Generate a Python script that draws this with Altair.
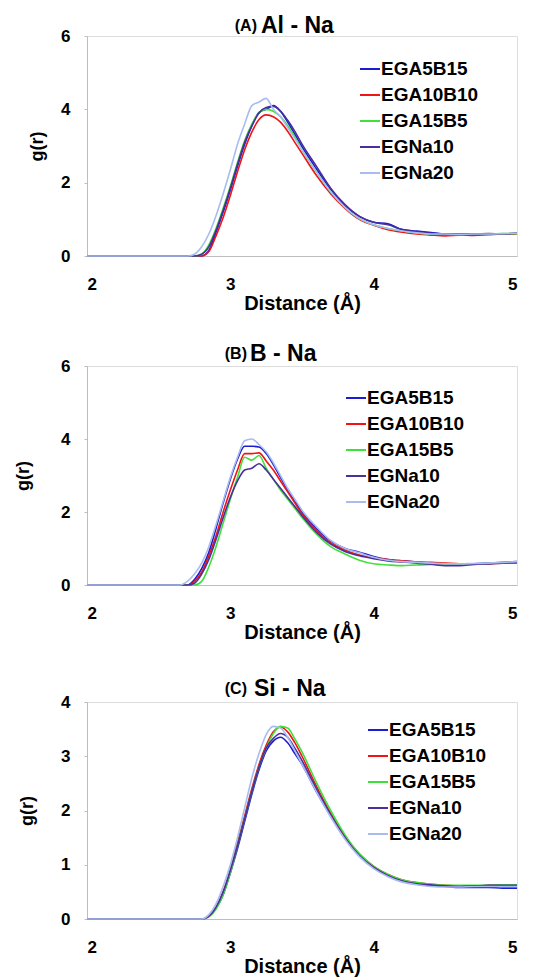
import altair as alt
import pandas as pd

series = ["EGA5B15", "EGA10B10", "EGA15B5", "EGNa10", "EGNa20"]
colors = ["#1c1cd0", "#f01414", "#3fe03a", "#4b2f9c", "#a8bcf0"]

r = [2.0, 2.65, 2.7, 2.75, 2.8, 2.85, 2.9, 2.95, 3.0, 3.05, 3.1, 3.15, 3.2, 3.25,
     3.3, 3.35, 3.4, 3.45, 3.5, 3.6, 3.7, 3.8, 3.9, 4.0, 4.1, 4.2, 4.3, 4.4, 4.5,
     4.6, 4.7, 4.8, 4.9, 5.0]

# (A) Al - Na
a_EGA5B15 = [0, 0, 0, 0, 0, 0.15, 0.65, 1.2, 1.8, 2.45, 3.05, 3.55, 3.92, 4.0, 4.1, 3.95, 3.65, 3.32, 2.98, 2.38, 1.82, 1.38, 1.08, 0.92, 0.88, 0.72, 0.68, 0.64, 0.6, 0.6, 0.58, 0.6, 0.6, 0.62]
a_EGA10B10 = [0, 0, 0, 0, 0, 0.12, 0.55, 1.05, 1.65, 2.3, 2.9, 3.38, 3.72, 3.85, 3.8, 3.65, 3.4, 3.1, 2.8, 2.2, 1.7, 1.3, 1.0, 0.84, 0.72, 0.65, 0.6, 0.57, 0.55, 0.57, 0.56, 0.58, 0.6, 0.6]
a_EGA15B5 = [0, 0, 0, 0, 0.05, 0.3, 0.75, 1.3, 1.9, 2.55, 3.15, 3.6, 3.9, 4.0, 3.95, 3.8, 3.55, 3.25, 2.9, 2.3, 1.75, 1.33, 1.02, 0.85, 0.75, 0.68, 0.63, 0.6, 0.59, 0.59, 0.6, 0.6, 0.61, 0.61]
a_EGNa10 = [0, 0, 0, 0, 0.05, 0.25, 0.7, 1.25, 1.85, 2.5, 3.1, 3.55, 3.9, 4.05, 4.08, 3.95, 3.7, 3.4, 3.05, 2.45, 1.85, 1.4, 1.08, 0.92, 0.85, 0.72, 0.66, 0.62, 0.6, 0.6, 0.6, 0.61, 0.6, 0.62]
a_EGNa20 = [0, 0, 0, 0.05, 0.25, 0.6, 1.1, 1.7, 2.35, 3.05, 3.6, 4.1, 4.2, 4.3, 4.0, 3.8, 3.5, 3.2, 2.9, 2.3, 1.75, 1.32, 1.02, 0.85, 0.75, 0.68, 0.63, 0.6, 0.6, 0.59, 0.6, 0.6, 0.61, 0.62]

# (B) B - Na
b_EGA5B15 = [0, 0, 0, 0.15, 0.45, 0.9, 1.55, 2.25, 2.9, 3.45, 3.8, 3.8, 3.78, 3.6, 3.3, 2.95, 2.6, 2.3, 2.0, 1.55, 1.2, 1.0, 0.9, 0.78, 0.7, 0.66, 0.63, 0.6, 0.58, 0.57, 0.58, 0.6, 0.62, 0.64]
b_EGA10B10 = [0, 0, 0, 0.1, 0.35, 0.8, 1.35, 2.0, 2.6, 3.15, 3.6, 3.6, 3.62, 3.4, 3.15, 2.85, 2.55, 2.25, 1.95, 1.5, 1.15, 0.95, 0.82, 0.74, 0.7, 0.66, 0.63, 0.62, 0.6, 0.58, 0.58, 0.58, 0.6, 0.6]
b_EGA15B5 = [0, 0, 0, 0, 0.1, 0.5, 1.05, 1.7, 2.35, 2.95, 3.5, 3.42, 3.55, 3.2, 2.9, 2.6, 2.35, 2.1, 1.85, 1.4, 1.05, 0.85, 0.68, 0.58, 0.55, 0.53, 0.55, 0.56, 0.57, 0.58, 0.58, 0.59, 0.6, 0.61]
b_EGNa10 = [0, 0, 0, 0.05, 0.3, 0.7, 1.25, 1.85, 2.4, 2.85, 3.15, 3.2, 3.32, 3.15, 2.9, 2.65, 2.4, 2.15, 1.9, 1.45, 1.12, 0.92, 0.8, 0.72, 0.66, 0.63, 0.6, 0.57, 0.53, 0.53, 0.56, 0.58, 0.6, 0.62]
b_EGNa20 = [0, 0, 0.1, 0.3, 0.6, 1.05, 1.65, 2.3, 2.95, 3.5, 3.95, 4.0, 3.85, 3.65, 3.35, 3.0, 2.65, 2.35, 2.05, 1.6, 1.22, 1.0, 0.88, 0.76, 0.68, 0.64, 0.62, 0.6, 0.58, 0.58, 0.59, 0.6, 0.62, 0.64]

# (C) Si - Na
c_EGA5B15 = [0, 0, 0, 0, 0, 0.05, 0.2, 0.45, 0.85, 1.3, 1.8, 2.3, 2.75, 3.1, 3.28, 3.35, 3.25, 3.05, 2.85, 2.35, 1.9, 1.5, 1.18, 0.95, 0.8, 0.7, 0.64, 0.62, 0.6, 0.58, 0.58, 0.58, 0.57, 0.57]
c_EGA10B10 = [0, 0, 0, 0, 0, 0.05, 0.2, 0.5, 0.9, 1.4, 1.9, 2.4, 2.85, 3.2, 3.45, 3.54, 3.45, 3.25, 3.0, 2.45, 1.95, 1.52, 1.2, 0.97, 0.82, 0.72, 0.67, 0.64, 0.62, 0.61, 0.6, 0.62, 0.63, 0.63]
c_EGA15B5 = [0, 0, 0, 0, 0, 0.04, 0.18, 0.45, 0.85, 1.35, 1.85, 2.35, 2.8, 3.15, 3.42, 3.55, 3.52, 3.32, 3.08, 2.52, 2.0, 1.55, 1.2, 0.97, 0.82, 0.72, 0.67, 0.64, 0.62, 0.62, 0.62, 0.62, 0.63, 0.63]
c_EGNa10 = [0, 0, 0, 0, 0, 0.05, 0.22, 0.5, 0.9, 1.35, 1.85, 2.35, 2.8, 3.15, 3.33, 3.42, 3.35, 3.15, 2.92, 2.4, 1.92, 1.5, 1.17, 0.95, 0.8, 0.7, 0.65, 0.63, 0.61, 0.6, 0.61, 0.62, 0.62, 0.62]
c_EGNa20 = [0, 0, 0, 0, 0, 0.08, 0.28, 0.6, 1.0, 1.5, 2.05, 2.6, 3.05, 3.4, 3.55, 3.52, 3.35, 3.1, 2.85, 2.35, 1.88, 1.47, 1.15, 0.93, 0.78, 0.68, 0.63, 0.6, 0.59, 0.59, 0.6, 0.6, 0.6, 0.6]

panels = [
    {"tag": "(A)", "name": "Al - Na", "ymax": 6, "yticks": [0, 2, 4, 6],
     "data": [a_EGA5B15, a_EGA10B10, a_EGA15B5, a_EGNa10, a_EGNa20]},
    {"tag": "(B)", "name": "B - Na", "ymax": 6, "yticks": [0, 2, 4, 6],
     "data": [b_EGA5B15, b_EGA10B10, b_EGA15B5, b_EGNa10, b_EGNa20]},
    {"tag": "(C)", "name": "Si - Na", "ymax": 4, "yticks": [0, 1, 2, 3, 4],
     "data": [c_EGA5B15, c_EGA10B10, c_EGA15B5, c_EGNa10, c_EGNa20]},
]

# layout / styling per panel
heights = [220, 219, 217]
ytitle_pad = [14, 28, 24]
legend_pos = [(272, 22), (258, 21), (280, 17)]
title_pos = [(170, 174, -10), (160, 163, -12), (160, 167, -13)]
extra_top = [0, 0, 6]

FONT = "Liberation Sans"
W = 430


def make_panel(i, p):
    rows = []
    for s, vals in zip(series, p["data"]):
        for x, y in zip(r, vals):
            rows.append({"r": x, "g": y, "series": s})
    df = pd.DataFrame(rows)
    lines = alt.Chart(df).mark_line(strokeWidth=1.6, interpolate="monotone").encode(
        x=alt.X("r:Q", scale=alt.Scale(domain=[2, 5], nice=False),
                axis=alt.Axis(values=[2, 3, 4, 5], title="Distance (Å)", format="d",
                              ticks=False, labelPadding=20, titlePadding=1,
                              domainColor="#bdbdbd", labelFontSize=17, labelFontWeight="bold",
                              titleFontSize=20, titleFontWeight="bold", labelFont=FONT,
                              titleFont=FONT, labelColor="black", titleColor="black",
                              grid=False)),
        y=alt.Y("g:Q", scale=alt.Scale(domain=[0, p["ymax"]], nice=False),
                axis=alt.Axis(values=p["yticks"], title="g(r)", format="d",
                              tickSize=3, tickColor="#bdbdbd", labelPadding=14,
                              titlePadding=ytitle_pad[i],
                              domainColor="#bdbdbd", labelFontSize=17, labelFontWeight="bold",
                              titleFontSize=18, titleFontWeight="bold", labelFont=FONT,
                              titleFont=FONT, labelColor="black", titleColor="black",
                              grid=False)),
        color=alt.Color("series:N", scale=alt.Scale(domain=series, range=colors),
                        sort=series,
                        legend=alt.Legend(title=None, orient="none",
                                          legendX=legend_pos[i][0], legendY=legend_pos[i][1],
                                          symbolType="stroke", symbolSize=400,
                                          symbolStrokeWidth=2, labelFontSize=19,
                                          labelFontWeight="bold", labelFont=FONT,
                                          labelColor="black", rowPadding=5,
                                          labelOffset=0, padding=0)),
        order=alt.Order("r:Q"),
    )
    tx1, tx2, ty = title_pos[i]
    tag = alt.Chart(pd.DataFrame({"t": [p["tag"]]})).mark_text(
        align="right", baseline="middle", fontSize=16, fontWeight="bold", font=FONT,
        color="black").encode(text="t:N", x=alt.value(tx1), y=alt.value(ty))
    name = alt.Chart(pd.DataFrame({"t": [p["name"]]})).mark_text(
        align="left", baseline="middle", fontSize=23, fontWeight="bold", font=FONT,
        color="black").encode(text="t:N", x=alt.value(tx2), y=alt.value(ty))
    layers = [lines, tag, name]
    if extra_top[i]:
        spacer = alt.Chart(pd.DataFrame({"t": [p["tag"]]})).mark_text(
            align="left", baseline="middle", fontSize=23, opacity=0, font=FONT).encode(
            text="t:N", x=alt.value(tx2), y=alt.value(ty - extra_top[i]))
        layers.append(spacer)
    return alt.layer(*layers).properties(width=W, height=heights[i])


chart = alt.vconcat(*[make_panel(i, p) for i, p in enumerate(panels)], spacing=28).resolve_scale(
    color="independent").resolve_legend(color="independent").properties(
    padding={"left": 6, "top": 6, "right": 5, "bottom": 2}
).configure_view(stroke=None).configure(background="white")

chart.save("out.html", embed_options={"renderer": "svg", "actions": False})
